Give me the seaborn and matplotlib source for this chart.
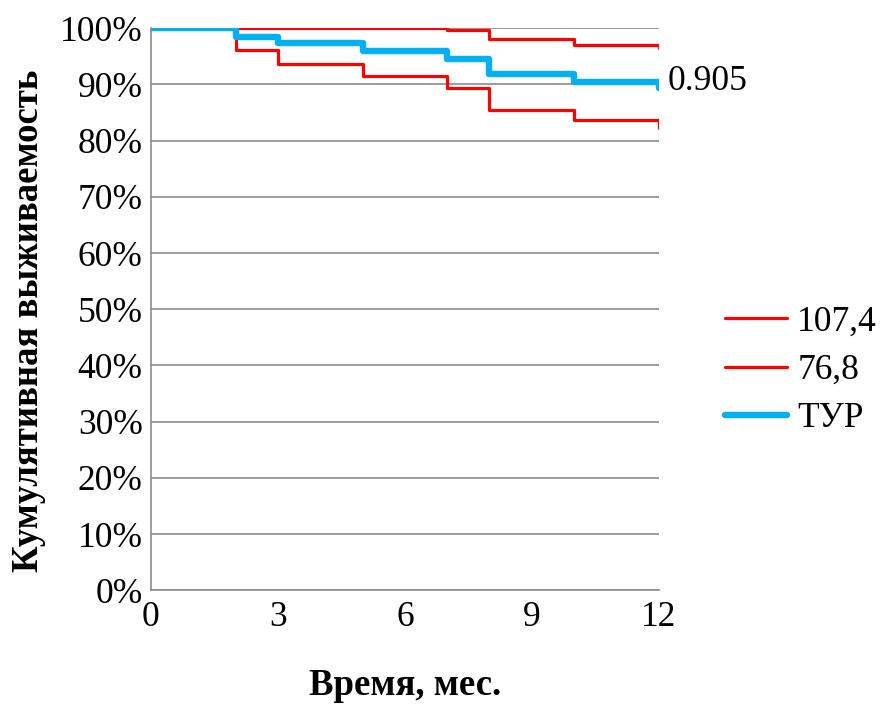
import matplotlib
matplotlib.use("Agg")
import matplotlib.pyplot as plt
from matplotlib.ticker import PercentFormatter
import pandas as pd
import seaborn as sns

# время, мес. и кумулятивная выживаемость (%)
t_upper = [0, 7, 8, 10, 12, 12]
s_upper = [100, 99.6, 98.0, 97.1, 97.1, 96.4]

t_tur = [0, 2, 3, 5, 7, 8, 10, 12, 12]
s_tur = [100, 98.5, 97.4, 95.9, 94.5, 91.9, 90.5, 90.5, 89.4]

t_lower = [0, 2, 3, 5, 7, 8, 10, 12, 12]
s_lower = [100, 96.1, 93.6, 91.5, 89.4, 85.5, 83.75, 83.75, 82.3]

labels = ["107,4", "76,8", "ТУР"]
final_label = "0.905"

sns.set_style("white")
plt.rcParams["font.family"] = ["Liberation Serif", "DejaVu Serif"]
plt.rcParams["text.color"] = "black"
plt.rcParams["axes.labelcolor"] = "black"

fig = plt.figure(figsize=(8.83, 7.06), dpi=100)
ax = fig.add_axes([0.171, 0.164, 0.575, 0.796])

series = [
    (t_upper, s_upper, labels[0], "#ff0000", 2.3),
    (t_lower, s_lower, labels[1], "#ff0000", 2.3),
    (t_tur, s_tur, labels[2], "#00b0f0", 4.6),
]
for t, s, name, color, lw in series:
    df = pd.DataFrame({"t": t, "s": s})
    sns.lineplot(data=df, x="t", y="s", ax=ax, estimator=None, sort=False,
                 drawstyle="steps-post", color=color, linewidth=lw, label=name)

ax.set_xlim(0, 12)
ax.set_ylim(0, 100)
ax.set_xticks([0, 3, 6, 9, 12])
ax.set_yticks(range(0, 101, 10))
ax.yaxis.set_major_formatter(PercentFormatter(decimals=0))
ax.grid(axis="y", color="#8c8c8c", linewidth=1.2)
ax.set_axisbelow(True)
for side in ["top", "right"]:
    ax.spines[side].set_visible(False)
for side in ["left", "bottom"]:
    ax.spines[side].set_color("#8c8c8c")
    ax.spines[side].set_linewidth(1.2)
ax.tick_params(axis="both", length=0, labelsize=25.5, colors="black")
ax.tick_params(axis="x", pad=8)
ax.tick_params(axis="y", pad=6)

ax.set_xlabel("Время, мес.", fontsize=26.5, fontweight="bold", labelpad=24)
ax.set_ylabel("Кумулятивная выживаемость", fontsize=26.5, fontweight="bold")
ax.yaxis.set_label_coords(-0.207, 0.48)

ax.text(12.2, s_tur[-2], final_label, fontsize=25.5, va="center", ha="left")

leg = ax.legend(loc="center left", bbox_to_anchor=(1.13, 0.391), frameon=False,
                fontsize=25.5, handlelength=1.75, handletextpad=0.3,
                labelspacing=0.43, borderpad=0, borderaxespad=0)

fig.savefig("out.png", dpi=100)
